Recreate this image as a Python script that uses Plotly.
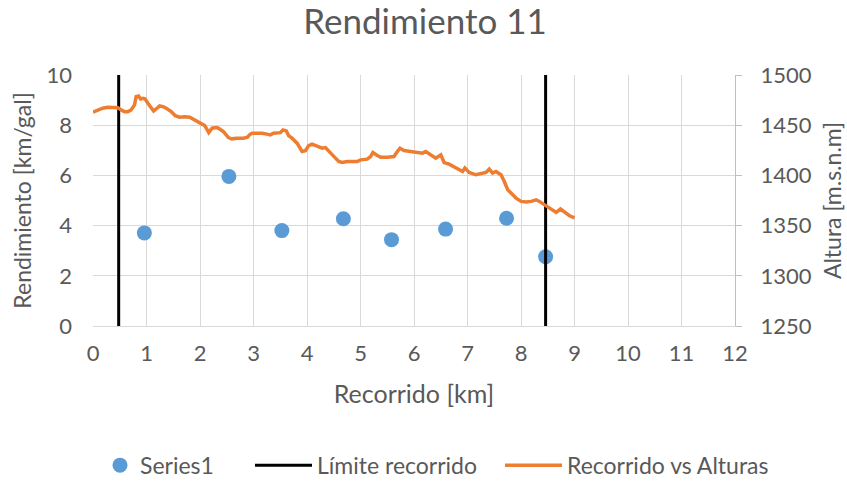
import plotly.graph_objects as go

# Series1 (Rendimiento)
s1_x = [0.96, 2.54, 3.53, 4.68, 5.58, 6.59, 7.73, 8.46]
s1_y = [3.71, 5.96, 3.80, 4.27, 3.44, 3.86, 4.29, 2.76]

# Límite recorrido (vertical lines)
lim_x = [0.48, 8.46]
lim_y = [0, 10]

# Recorrido vs Alturas
alt_km = [0.0, 0.088, 0.182, 0.276, 0.401, 0.463, 0.525, 0.589, 0.651, 0.713, 0.776, 0.806, 0.851,
          0.889, 0.932, 0.975, 1.026, 1.088, 1.133, 1.181, 1.245, 1.307, 1.369, 1.463, 1.538, 1.620,
          1.714, 1.808, 1.901, 1.995, 2.089, 2.164, 2.226, 2.306, 2.344, 2.438, 2.531, 2.595, 2.689,
          2.813, 2.888, 2.925, 2.970, 3.064, 3.158, 3.251, 3.313, 3.375, 3.439, 3.501, 3.551, 3.613,
          3.656, 3.720, 3.814, 3.863, 3.908, 3.970, 4.032, 4.095, 4.189, 4.283, 4.345, 4.407, 4.470,
          4.532, 4.594, 4.658, 4.752, 4.939, 5.001, 5.127, 5.188, 5.232, 5.314, 5.376, 5.502, 5.625,
          5.689, 5.738, 5.813, 5.938, 6.064, 6.158, 6.220, 6.314, 6.407, 6.501, 6.563, 6.657, 6.750,
          6.814, 6.908, 6.951, 7.032, 7.157, 7.251, 7.345, 7.407, 7.470, 7.532, 7.626, 7.688, 7.752,
          7.814, 7.908, 8.001, 8.095, 8.189, 8.283, 8.344, 8.438, 8.564, 8.657, 8.738, 8.813, 8.907,
          9.000]
alt_m = [1462.9, 1465.2, 1466.9, 1467.9, 1467.9, 1467.5, 1465.2, 1463.5, 1463.5, 1465.2, 1470.2, 1478.4,
         1479.1, 1476.1, 1476.8, 1476.1, 1471.9, 1466.9, 1464.2, 1466.2, 1469.2, 1468.5, 1466.9, 1463.5,
         1459.5, 1458.0, 1458.5, 1458.0, 1455.3, 1452.0, 1449.6, 1442.6, 1447.0, 1447.6, 1447.0, 1443.6,
         1437.7, 1436.4, 1437.1, 1437.1, 1438.1, 1440.4, 1442.0, 1442.0, 1442.0, 1441.1, 1440.4, 1442.0,
         1442.0, 1442.6, 1445.3, 1444.3, 1439.7, 1437.1, 1432.1, 1427.1, 1423.8, 1424.5, 1429.7, 1431.1,
         1428.7, 1427.1, 1427.7, 1423.8, 1419.8, 1417.2, 1413.8, 1412.8, 1413.8, 1413.8, 1415.5, 1416.2,
         1418.8, 1422.8, 1419.8, 1418.2, 1418.2, 1418.8, 1423.8, 1427.1, 1424.8, 1423.8, 1422.2, 1422.2,
         1423.8, 1420.5, 1417.2, 1420.5, 1412.8, 1411.2, 1408.3, 1407.2, 1403.9, 1407.3, 1402.9, 1400.6,
         1401.6, 1402.9, 1406.3, 1402.3, 1403.9, 1400.6, 1393.9, 1385.7, 1382.4, 1377.4, 1374.1, 1373.5,
         1374.1, 1375.7, 1374.1, 1370.8, 1366.5, 1363.1, 1366.5, 1363.1, 1359.8, 1357.6]

x_ticks = list(range(0, 13))
y_ticks = [0, 2, 4, 6, 8, 10]
y2_ticks = [1250, 1300, 1350, 1400, 1450, 1500]

FONT = "Lato, 'Open Sans', sans-serif"
GREY = "#595959"

lx, ly = [], []
for xv in lim_x:
    lx += [xv, xv, None]
    ly += [lim_y[0], lim_y[1], None]

fig = go.Figure()
fig.add_trace(go.Scatter(x=s1_x, y=s1_y, mode="markers", name="Series1",
                         marker=dict(color="#5b9bd5", size=15), legend="legend"))
fig.add_trace(go.Scatter(x=lx, y=ly, mode="lines", name="Límite recorrido",
                         line=dict(color="black", width=3), legend="legend2"))
fig.add_trace(go.Scatter(x=alt_km, y=alt_m, mode="lines", name="Recorrido vs Alturas",
                         line=dict(color="#ed7d31", width=3.5), yaxis="y2", legend="legend3"))

W, H = 847, 483
PL, PR = 93, 735          # plot area in window pixels
PT, PB = 75, 326.5

def px2paper(px):
    return (px - PL) / (PR - PL)

def py2paper(py):
    return (PB - py) / (PB - PT)

leg_common = dict(orientation="h", yanchor="middle", y=py2paper(466), xanchor="left",
                  font=dict(size=23, color=GREY, family=FONT), bgcolor="rgba(0,0,0,0)",
                  borderwidth=0)

fig.update_layout(
    width=W, height=H,
    margin=dict(l=PL, r=W - PR, t=PT, b=H - PB, autoexpand=False),
    paper_bgcolor="white", plot_bgcolor="white",
    font=dict(family=FONT, color=GREY, size=22),
    title=dict(text="Rendimiento 11", x=425 / W, xanchor="center",
               y=1 - 22 / H, yanchor="middle",
               font=dict(size=35, color=GREY, family=FONT)),
    xaxis=dict(range=[0, 12], tickvals=x_ticks, showgrid=True, gridcolor="#d9d9d9", gridwidth=1,
               zeroline=False, showline=True, linecolor="#d9d9d9", ticks="", ticklabelstandoff=8,
               automargin=False,
               title=dict(text="Recorrido [km]", font=dict(size=25), standoff=20),
               tickfont=dict(size=22)),
    yaxis=dict(range=[0, 10], tickvals=y_ticks, showgrid=True, gridcolor="#d9d9d9", gridwidth=1,
               zeroline=False, showline=False, ticks="", ticklabelstandoff=20, automargin=False,
               title=dict(text="Rendimiento [km/gal]", font=dict(size=23), standoff=8),
               tickfont=dict(size=22)),
    yaxis2=dict(range=[1250, 1500], tickvals=y2_ticks, overlaying="y", side="right",
                showgrid=False, zeroline=False, showline=True, linecolor="#bfbfbf",
                ticks="outside", ticklen=6, tickcolor="#bfbfbf", ticklabelstandoff=14,
                automargin=False,
                title=dict(text="Altura [m.s.n.m]", font=dict(size=23), standoff=14),
                tickfont=dict(size=22)),
    legend=dict(x=px2paper(100), **leg_common),
    legend2=dict(x=px2paper(250), itemwidth=57, **leg_common),
    legend3=dict(x=px2paper(500), itemwidth=57, **leg_common),
    showlegend=True,
)

fig.write_html("out.html", config={"displayModeBar": False},
               post_script="document.body.style.margin='0';")
